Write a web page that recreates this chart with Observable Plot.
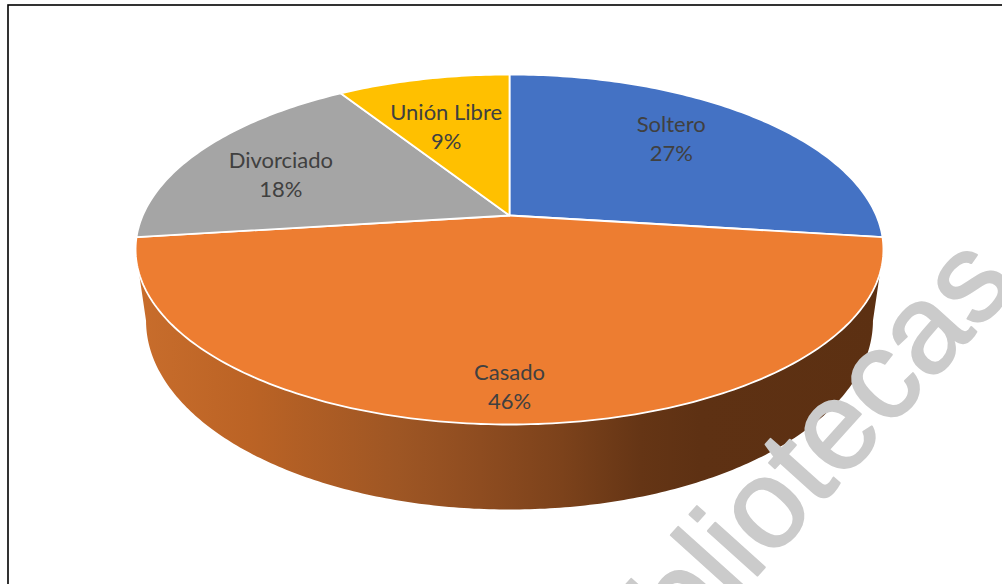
<!DOCTYPE html>
<html><head><meta charset="utf-8">
<script src="https://cdn.jsdelivr.net/npm/d3@7"></script>
<script src="https://cdn.jsdelivr.net/npm/@observablehq/plot@0.6"></script>
<style>html,body{margin:0;padding:0;background:#fff;} #chart{width:1002px;height:584px;overflow:hidden}</style>
</head><body><div id="chart"></div>
<script>
// ---- data ----
const categories = ["Soltero", "Casado", "Divorciado", "Unión Libre"];
const values = [27, 46, 18, 9];
const colors = ["#4472c4", "#ed7d31", "#a5a5a5", "#ffc000"];
const watermark = ["bibliotecas"];

// ---- 3D perspective pie geometry (styling) ----
const W = 1002, Hh = 584;
const CX = 509, CY = 215, A = 366.8, B = 168.4, Q = 0.1943, DEPTH = 68.5, KX = 0.972;
function projTop(theta, r = 1) {
  const u = r * Math.sin(theta), v = -r * Math.cos(theta);
  const w = 1 - Q * v;
  return {x: CX + A * u / w, y: CY + B * v / w, w};
}
function projBottom(theta) {
  const p = projTop(theta, 1);
  return {x: CX + (p.x - CX) * KX, y: p.y + DEPTH / p.w};
}
const total = d3.sum(values);
let acc = 0;
const slices = categories.map((c, i) => {
  const a0 = acc / total * 2 * Math.PI;
  acc += values[i];
  const a1 = acc / total * 2 * Math.PI;
  return {category: c, value: values[i], color: colors[i], a0, a1, mid: (a0 + a1) / 2};
});

// side wall (front half)
const thR = Math.acos(-Q), thL = 2 * Math.PI - thR;
const side = [];
const N = 240;
for (let k = 0; k <= N; k++) side.push(projTop(thR + (thL - thR) * k / N));
for (let k = N; k >= 0; k--) side.push(projBottom(thR + (thL - thR) * k / N));

const marks = [];
// frame border
marks.push(Plot.rect([0], {x1: () => 8, x2: () => 1012, y1: () => 5, y2: () => 600, fill: "none", stroke: "#000", strokeWidth: 1.6}));
marks.push(Plot.line(side, {x: "x", y: "y", curve: "linear-closed", fill: "url(#sideGrad)", stroke: "none"}));
for (const s of slices) {
  const pts = [projTop(0, 0)];
  const n = Math.max(8, Math.round((s.a1 - s.a0) / (2 * Math.PI) * 400));
  for (let k = 0; k <= n; k++) pts.push(projTop(s.a0 + (s.a1 - s.a0) * k / n));
  marks.push(Plot.line(pts, {x: "x", y: "y", curve: "linear-closed", fill: s.color, stroke: "#ffffff", strokeWidth: 1.8, strokeLinejoin: "round"}));
}
// labels
const labelShift = {"Soltero": [-15, -7], "Casado": [0, 33], "Divorciado": [-9, 5], "Unión Libre": [0, 10]};
for (const s of slices) {
  const p = projTop(s.mid, 0.7);
  const lab = [{x: p.x, y: p.y, text: `${s.category}\n${Math.round(s.value / total * 100)}%`}];
  marks.push(Plot.text(lab, {x: "x", y: "y", text: "text", dx: labelShift[s.category][0], dy: labelShift[s.category][1],
    fontSize: 22, fontFamily: "Lato, 'Open Sans', sans-serif", fill: "#404040", lineHeight: 1.32}));
}
// watermark
marks.push(Plot.text(watermark, {x: () => 590, y: () => 700, text: d => d, rotate: -48, textAnchor: "start",
  fontSize: 126, fontFamily: "'Liberation Sans', Arial, sans-serif", fill: "#cbcbcb", stroke: "#cbcbcb", strokeWidth: 2}));

const chart = Plot.plot({
  width: W, height: Hh, margin: 0,
  x: {domain: [0, W], range: [0, W], axis: null},
  y: {domain: [0, Hh], range: [0, Hh], axis: null},
  style: {background: "#ffffff", overflow: "hidden"},
  marks
});
const svg = d3.select(chart);
const defs = svg.insert("defs", ":first-child");
const grad = defs.append("linearGradient").attr("id", "sideGrad").attr("gradientUnits", "userSpaceOnUse")
  .attr("x1", 137).attr("x2", 882).attr("y1", 0).attr("y2", 0);
[[0, "#c86d2c"], [0.15, "#bb6325"], [0.35, "#9e5624"], [0.46, "#8e4c20"], [0.57, "#7c421b"], [0.675, "#653515"], [0.755, "#5e3113"], [1, "#5c3012"]]
  .forEach(([o, c]) => grad.append("stop").attr("offset", o).attr("stop-color", c));
document.getElementById("chart").appendChild(chart);
</script>
</body></html>
